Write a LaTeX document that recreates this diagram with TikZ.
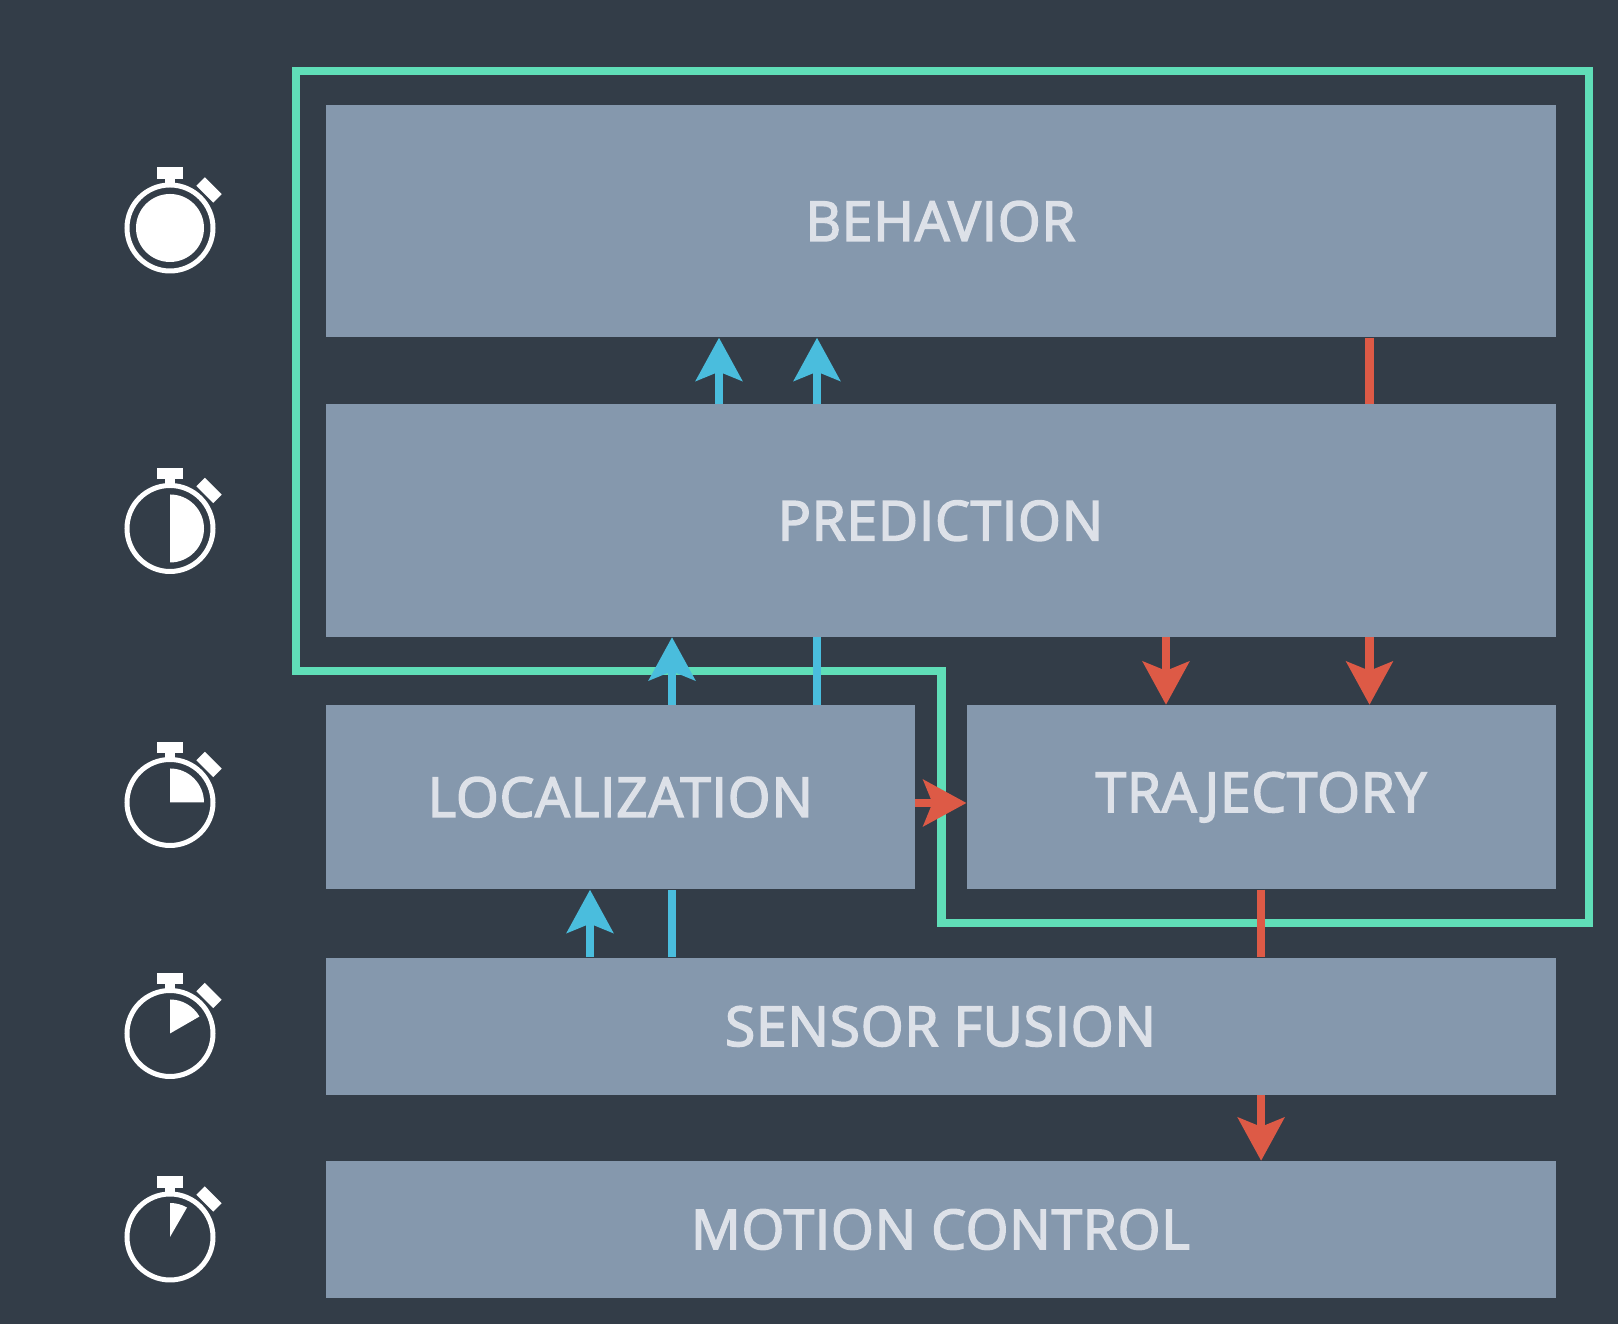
\documentclass[tikz,border=0pt]{standalone}
\usepackage{fontspec}
\setmainfont{Open Sans}[FakeBold=2.8, LetterSpace=1.5]
\usetikzlibrary{arrows.meta}
\definecolor{bgdark}{HTML}{333D48}
\definecolor{boxgray}{HTML}{8598AD}
\definecolor{labelgray}{HTML}{DDE1E8}
\definecolor{loopgreen}{HTML}{60DEB8}
\definecolor{upblue}{HTML}{4ABDDD}
\definecolor{downred}{HTML}{DD5A46}
\tikzset{
  block/.style={fill=boxgray, text=labelgray, inner sep=0pt, font=\fontsize{55}{55}\selectfont},
  feed/.style={line width=8.5pt},
  upline/.style={feed, draw=upblue},
  downline/.style={feed, draw=downred},
  uparrow/.style={upline, -{Stealth[length=43pt, width=46pt, inset=9pt, fill=upblue]}},
  downarrow/.style={downline, -{Stealth[length=43pt, width=46pt, inset=9pt, fill=downred]}}
}

\begin{document}
\begin{tikzpicture}[x=1pt, y=1pt]

  \fill[bgdark] (0, 0) rectangle (1618, 1324);
  \useasboundingbox (0, 0) rectangle (1618, 1324);

  \node[block, minimum width=1230pt, minimum height=232.5pt] (behavior) at (940.5, 1102.75) {BEHAVIOR};
  \node[block, minimum width=1230pt, minimum height=232.5pt] (prediction) at (940.5, 803.25) {PREDICTION};
  \node[block, minimum width=589.5pt, minimum height=184.5pt] (localization) at (620.25, 526.75) {LOCALIZATION};
  \node[block, minimum width=588.8pt, minimum height=184.5pt] (trajectory) at (1261.1, 526.75) {TRAJECTORY};
  \node[block, minimum width=1230pt, minimum height=137.3pt] (sensor) at (940.5, 297.65) {SENSOR FUSION};
  \node[block, minimum width=1230pt, minimum height=137pt] (motion) at (940.5, 94.5) {MOTION CONTROL};

  % the loop round the upper blocks
  \coordinate (looptl) at (296, 1253);
  \coordinate (looptr) at (1589, 1253);
  \coordinate (loopbr) at (1589, 401);
  \coordinate (loopbm) at (941.7, 401);
  \coordinate (loopmm) at (941.7, 653);
  \coordinate (loopml) at (296, 653);
  \draw[line width=8.5pt, loopgreen, miter limit=4]
    (looptl) -- (looptr) -- (loopbr) -- (loopbm) -- (loopmm) -- (loopml) -- cycle;

  % columns and rows of the connectors
  \coordinate (cola) at (590, 0);
  \coordinate (colb) at (672, 0);
  \coordinate (colc) at (719, 0);
  \coordinate (cold) at (817, 0);
  \coordinate (cole) at (1166, 0);
  \coordinate (colf) at (1369.5, 0);
  \coordinate (rowa) at (0, 521);

  \draw[uparrow] (prediction.north -| colc) -- (behavior.south -| colc);
  \draw[uparrow] (prediction.north -| cold) -- (behavior.south -| cold);
  \draw[downline] (behavior.south -| colf) -- (prediction.north -| colf);

  \draw[uparrow] (localization.north -| colb) -- (prediction.south -| colb);
  \draw[upline] (localization.north -| cold) -- (prediction.south -| cold);
  \draw[downarrow] (prediction.south -| cole) -- (trajectory.north -| cole);
  \draw[downarrow] (prediction.south -| colf) -- (trajectory.north -| colf);
  \draw[downarrow] (localization.east |- rowa) -- (trajectory.west |- rowa);

  \draw[uparrow] (sensor.north -| cola) -- (localization.south -| cola);
  \draw[upline] (sensor.north -| colb) -- (localization.south -| colb);
  \draw[downline] (trajectory.south) -- (sensor.north -| trajectory.south);
  \draw[downarrow] (sensor.south -| trajectory.south) -- (motion.north -| trajectory.south);

  % the stopwatches
  \foreach \wy/\wend in {1096/-270, 795.5/-90, 521.5/0, 290.5/30, 87/60} {
    \begin{scope}[shift={(170, \wy)}]
      \draw[white, line width=5pt] (0, 0) circle (43);
      \fill[white] (-13, 49) rectangle (13, 60.5);
      \fill[white] (-5, 42) rectangle (5, 50);
      \fill[white, rotate around={-45:(39, 38)}] (27, 32) rectangle (51, 44);
      \fill[white] (0, 0) -- (90:34) arc (90:\wend:34) -- cycle;
    \end{scope}
  }

\end{tikzpicture}
\end{document}
